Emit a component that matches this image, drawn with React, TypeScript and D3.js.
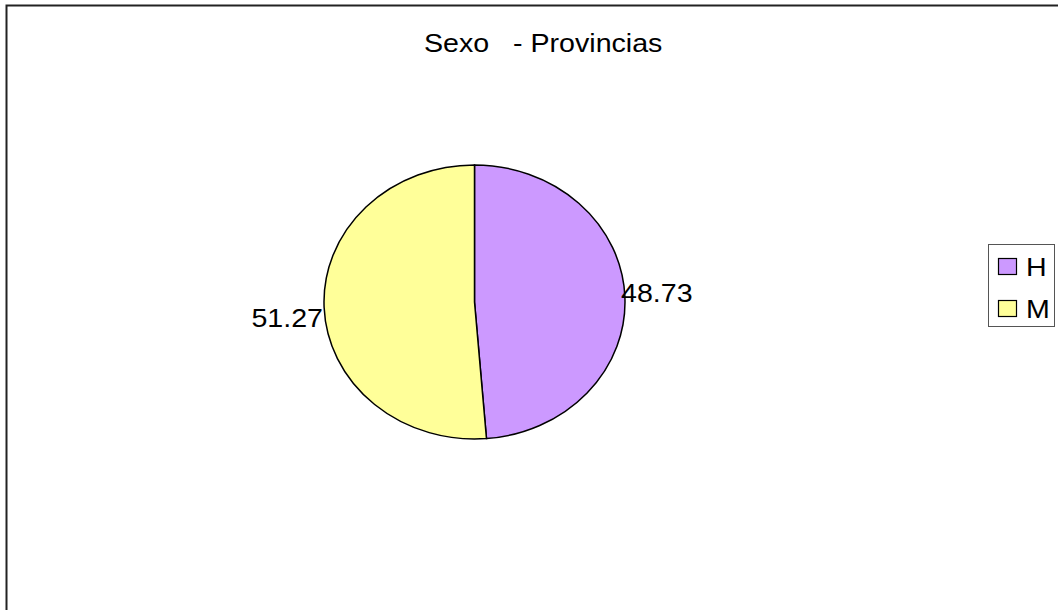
import React from "react";
import * as d3 from "d3";

const categories = ["H", "M"];
const values = [48.73, 51.27];
const labels = ["48.73", "51.27"];
const colors = ["#CC99FF", "#FFFF99"];
const title = "Sexo   - Provincias";

export default function App() {
  const W = 1058, H = 610;
  const cx = 474.5, cy = 302, rx = 150.5, ry = 137;
  const pie = d3.pie<number>().sort(null).value((d) => d)(values);
  const arc = d3.arc<d3.PieArcDatum<number>>().innerRadius(0).outerRadius(rx);
  const font = "Arial, 'Liberation Sans', sans-serif";
  const fs = 26;
  const sx = 1.1;
  const T = (x: number, y: number) => `translate(${x},${y}) scale(${sx},1)`;
  return (
    <svg width={W} height={H} style={{ position: "absolute", left: 0, top: 0, background: "#fff" }}>
      <rect x={6.5} y={5.5} width={W + 20} height={H + 20} fill="#fff" stroke="#222" strokeWidth={2} />
      <text transform={T(424, 52)} fontFamily={font} fontSize={fs} style={{ whiteSpace: "pre" }}>{title}</text>
      <g transform={`translate(${cx},${cy}) scale(1,${ry / rx})`}>
        {pie.map((p, i) => (
          <path key={i} d={arc(p) || ""} fill={colors[i]} stroke="#000" strokeWidth={1.5} vectorEffect="non-scaling-stroke" />
        ))}
      </g>
      <text transform={T(621, 302)} fontFamily={font} fontSize={fs}>{labels[0]}</text>
      <text transform={T(323, 327)} textAnchor="end" fontFamily={font} fontSize={fs}>{labels[1]}</text>
      <rect x={988.5} y={244.5} width={66} height={82} fill="#fff" stroke="#555" strokeWidth={1} />
      {categories.map((c, i) => (
        <g key={c} transform={`translate(0,${i * 42})`}>
          <rect x={998.5} y={258.5} width={18} height={16} fill={colors[i]} stroke="#000" strokeWidth={1.2} />
          <text transform={T(1026, 276)} fontFamily={font} fontSize={fs}>{c}</text>
        </g>
      ))}
    </svg>
  );
}
